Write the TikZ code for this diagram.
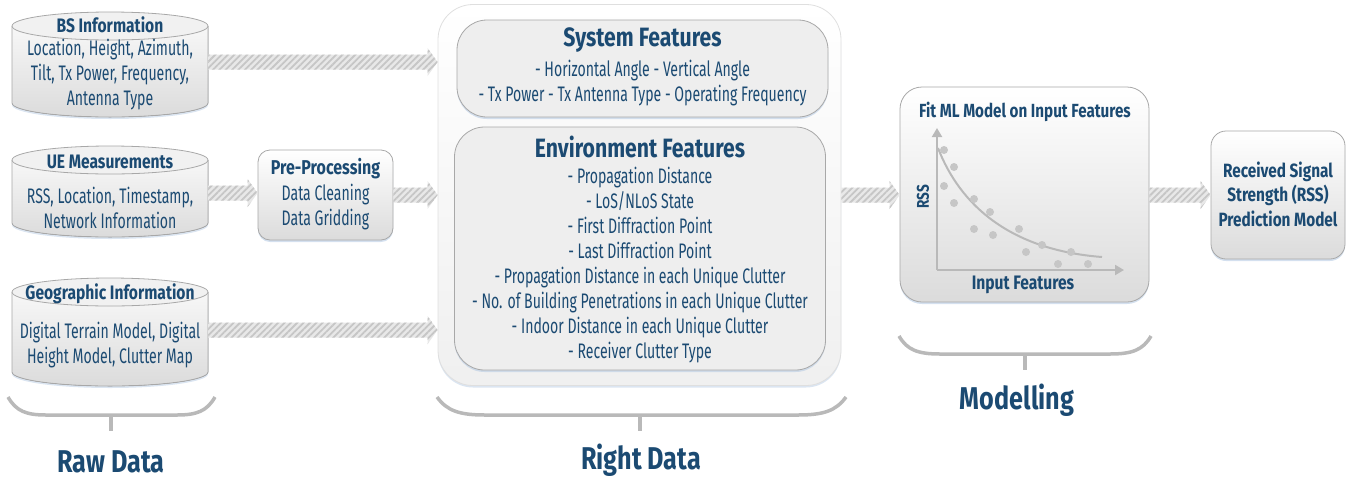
\documentclass[tikz,border=0pt]{standalone}
\usepackage{fontspec}
\setmainfont{Fira Sans}[FakeStretch=0.67]
\newfontfamily\hfont{Fira Sans}[FakeStretch=0.80]
\usetikzlibrary{patterns.meta,shadows,arrows.meta,calc}
\definecolor{txt}{HTML}{1B4A72}
\definecolor{bord}{HTML}{A8A8A8}
\definecolor{glow}{HTML}{B8CCE4}
\newcommand\harrow[2]{%
  \path[harr] let \p1=#1, \p2=#2 in
    (\x1,\y1+7.5pt) -- (\x2-10pt,\y1+7.5pt) -- (\x2-10pt,\y1+14pt) -- (\x2,\y1)
    -- (\x2-10pt,\y1-14pt) -- (\x2-10pt,\y1-7.5pt) -- (\x1,\y1-7.5pt) -- cycle;}
\newcommand\dbcyl[2]{% #1 = centre of top ellipse, #2 = centre of bottom ellipse (y)
  \fill[cylbody] (12,#1) -- (12,#2) arc[start angle=180,end angle=360,x radius=98pt,y radius=14pt] -- (208,#1) -- cycle;
  \draw[cylline] (12,#1) -- (12,#2) arc[start angle=180,end angle=360,x radius=98pt,y radius=14pt] -- (208,#1);
  \draw[cyltop] (110,#1) ellipse[x radius=98pt,y radius=14pt];}
\begin{document}
\begin{tikzpicture}[x=1pt,y=-1pt,
  body/.style={text=txt,font=\fontsize{21}{25}\selectfont,align=center,inner sep=0pt},
  ttl/.style={text=txt,font=\hfont\bfseries\fontsize{19.5}{24}\selectfont,align=center,inner sep=0pt},
  bigttl/.style={text=txt,font=\hfont\bfseries\fontsize{26.5}{28}\selectfont,inner sep=0pt},
  grp/.style={text=txt,font=\hfont\bfseries\fontsize{31.5}{34}\selectfont,inner sep=0pt},
  anchorbox/.style={inner sep=0pt,minimum width=#1},
  harr/.style={preaction={fill=gray!18},pattern={Lines[angle=45,distance=4.5pt,line width=1.8pt]},pattern color=gray!45},
  cylbody/.style={top color=gray!6,bottom color=gray!28,drop shadow={shadow xshift=0pt,shadow yshift=-2pt,fill=glow,opacity=0.5}},
  cylline/.style={draw=bord,line width=0.8pt},
  cyltop/.style={draw=bord,line width=0.8pt,fill=gray!11},
  gbox/.style={draw=bord,line width=0.8pt,top color=white,bottom color=gray!28,drop shadow={shadow xshift=0pt,shadow yshift=-2pt,fill=glow,opacity=0.6}},
  featbox/.style={draw=bord,line width=0.8pt,fill=gray!13,rounded corners=30pt,drop shadow={shadow xshift=0pt,shadow yshift=-2pt,fill=glow,opacity=0.6}},
  brace/.style={draw=gray!55,line width=3.5pt},
  axis/.style={draw=gray!55,line width=2pt,-{Triangle[length=9pt,width=10pt]}},
  dot/.style={fill=gray!45}]
\useasboundingbox (0,0) rectangle (1354,480);

% ---------- raw data cylinders ----------
\dbcyl{26}{103}
\node[anchorbox=196pt,minimum height=100pt] (bs) at (110,62) {};
\node[ttl] (bst) at (110,25) {BS Information};
\node[body] (bsb) at (110,75) {Location, Height, Azimuth,\\Tilt, Tx Power, Frequency,\\Antenna Type};

\dbcyl{160}{223}
\node[anchorbox=196pt,minimum height=80pt] (ue) at (110,193) {};
\node[ttl] (uet) at (110,162) {UE Measurements};
\node[body] (ueb) at (110,207.5) {RSS, Location, Timestamp,\\Network Information};

\dbcyl{292}{372}
\node[anchorbox=196pt,minimum height=90pt] (geo) at (110,330) {};
\node[ttl] (geot) at (110,294) {Geographic Information};
\node[body] (geob) at (110,345) {Digital Terrain Model, Digital\\Height Model, Clutter Map};

% ---------- pre-processing ----------
\node[gbox,rounded corners=12pt,minimum width=135pt,minimum height=90pt] (pp) at (325.5,195) {};
\node[ttl,font=\hfont\bfseries\fontsize{20}{24}\selectfont] (ppt) at (325.5,169) {Pre-Processing};
\node[body] (ppb) at (325.5,207) {Data Cleaning\\Data Gridding};

% ---------- right data container ----------
\node[draw=gray!25,line width=0.8pt,rounded corners=35pt,top color=white,bottom color=gray!12,
      minimum width=403pt,minimum height=381pt,inner sep=0pt,
      drop shadow={shadow xshift=0pt,shadow yshift=-2pt,fill=glow,opacity=0.5}] (rd) at (639.5,195) {};
\node[featbox,minimum width=371pt,minimum height=97pt,inner sep=0pt] (sys) at (642.5,68.5) {};
\node[bigttl] (syst) at (642.5,40) {System Features};
\node[body] (sysb) at (642.5,83) {- Horizontal Angle - Vertical Angle\\- Tx Power - Tx Antenna Type - Operating Frequency};
\node[featbox,minimum width=371pt,minimum height=243pt,inner sep=0pt] (env) at (640,248.5) {};
\node[bigttl] (envt) at (640,147) {Environment Features};
\node[body] (envb) at (640,265) {- Propagation Distance\\- LoS/NLoS State\\- First Diffraction Point\\- Last Diffraction Point\\- Propagation Distance in each Unique Clutter\\- No. of Building Penetrations in each Unique Clutter\\- Indoor Distance in each Unique Clutter\\- Receiver Clutter Type};

% ---------- modelling ----------
\node[gbox,rounded corners=22pt,minimum width=249pt,minimum height=215pt,inner sep=0pt] (ml) at (1024.5,194.5) {};
\node[ttl,font=\hfont\bfseries\fontsize{19}{24}\selectfont] (mlt) at (1025,112) {Fit ML Model on Input Features};
\coordinate (o) at (937,270);
\draw[axis] (o) -- (937,128);
\draw[axis] (o) -- (1124,270);
\draw[draw=gray!55,line width=2pt] (938,148) .. controls (960,205) and (1010,250) .. (1102,257);
\foreach \px/\py in {944/150,954/167,944/186,954/203,974/199,990/212,974/229,993/235,1019/229,1042/245,1026/252,1071/252,1058/264,1088/264}
  \fill[dot] (\px,\py) circle[radius=4pt];
\node[ttl,rotate=90,font=\hfont\bfseries\fontsize{17}{20}\selectfont] (rssl) at (923,197) {RSS};
\node[ttl] (inl) at (1023,285) {Input Features};

% ---------- output ----------
\node[gbox,rounded corners=15pt,minimum width=134pt,minimum height=128pt,inner sep=0pt] (out) at (1278,195) {};
\node[ttl,font=\hfont\bfseries\fontsize{19.2}{24.5}\selectfont] (outt) at (1278,194) {Received Signal\\Strength (RSS)\\Prediction Model};

% ---------- hatched arrows ----------
\harrow{(bs.east)}{(rd.west |- bs.east)}
\harrow{(ue.east)}{(pp.west |- ue.east)}
\harrow{(pp.east)}{(rd.west |- pp.east)}
\harrow{(geo.east)}{(rd.west |- geo.east)}
\harrow{(rd.east)}{(ml.west |- rd.east)}
\harrow{(ml.east |- out.west)}{(out.west)}

% ---------- braces ----------
\draw[brace] (8,397) .. controls (16,411) and (26,415) .. (46,415) -- (177,415) .. controls (197,415) and (207,411) .. (215,397);
\coordinate (rawstem) at (111,415);
\draw[brace] (rawstem) -- ++(0,16);
\node[grp] (raw) at (111,462) {Raw Data};

\draw[brace] (437,397) .. controls (447,411) and (460,415) .. (485,415) -- (798,415) .. controls (823,415) and (836,411) .. (846,397);
\coordinate (rightstem) at (640,415);
\draw[brace] (rightstem) -- ++(0,16);
\node[grp] (right) at (641,460) {Right Data};

\draw[brace] (899,336) .. controls (907,350) and (918,354) .. (940,354) -- (1110,354) .. controls (1132,354) and (1143,350) .. (1151,336);
\coordinate (modstem) at (1025,354);
\draw[brace] (modstem) -- ++(0,16);
\node[grp] (mod) at (1017,400) {Modelling};
\end{tikzpicture}
\end{document}
